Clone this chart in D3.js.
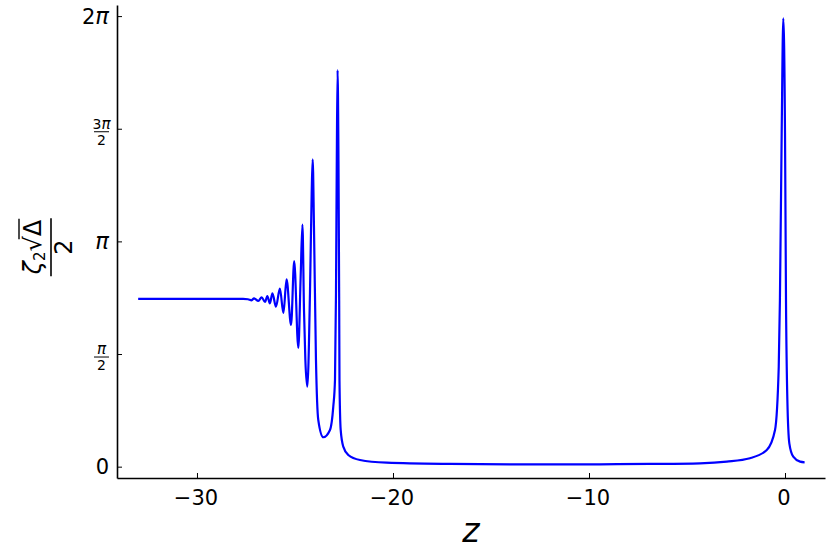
<!DOCTYPE html>
<html>
<head>
<meta charset="utf-8">
<script src="https://cdn.jsdelivr.net/npm/d3@7"></script>
<style>
  body { margin: 0; background: #fff; }
  text { font-family: "DejaVu Sans", sans-serif; fill: #000; }
</style>
</head>
<body>
<svg id="chart" width="830" height="554"></svg>
<script>
// values
var zValues = [-33.0, -30.0, -27.65, -27.4, -27.21, -27.09, -26.87, -26.70, -26.53, -26.41,
  -26.28, -26.15, -25.97, -25.77, -25.59, -25.43, -25.20, -25.04, -24.83, -24.71,
  -24.62, -24.54, -24.47, -24.37, -24.235, -24.148, -24.097, -24.031, -23.929, -23.811,
  -23.556, -23.214, -23.046, -22.959, -22.908, -22.867, -22.827, -22.781, -22.745, -22.730,
  -22.668, -22.536, -22.281, -21.684, -20.321, -17.09, -13.0, -9.44, -6.9, -4.34,
  -2.97, -1.79, -0.93, -0.51, -0.32, -0.26, -0.17, -0.087, 0.0, 0.05,
  0.12, 0.22, 0.42, 0.77, 1.0];
var phaseValues = [2.34, 2.34, 2.34, 2.335, 2.32, 2.348, 2.31, 2.362, 2.296, 2.38,
  2.278, 2.418, 2.231, 2.482, 2.143, 2.613, 1.976, 2.868, 1.655, 2.649,
  3.374, 2.185, 1.488, 1.115, 2.422, 3.816, 4.286, 3.346, 1.488, 0.651,
  0.410, 0.512, 0.837, 1.209, 2.416, 4.277, 5.531, 4.277, 2.324, 1.209,
  0.512, 0.279, 0.163, 0.093, 0.056, 0.038, 0.031, 0.033, 0.038, 0.047,
  0.070, 0.117, 0.233, 0.512, 1.394, 2.324, 4.653, 6.252, 4.653, 2.324,
  0.930, 0.326, 0.139, 0.070, 0.061];

var xTicks = [-30, -20, -10, 0];
var yTicks = [0, Math.PI / 2, Math.PI, 3 * Math.PI / 2, 2 * Math.PI];
// [numerator digit, has pi, denominator]
var yTickLabels = [["0", false, ""], ["", true, "2"], ["", true, ""], ["3", true, "2"], ["2", true, ""]];

var svg = d3.select("#chart");

var x = d3.scaleLinear().domain([-34.08, 2.04]).range([117, 825]);
var y = d3.scaleLinear().domain([-0.158, 6.438]).range([478, 5]);

var pts = zValues.map((z, i) => [z, phaseValues[i]]);

// curve
svg.append("path")
    .datum(pts)
    .attr("fill", "none")
    .attr("stroke", "#0000ff")
    .attr("stroke-width", 2.2)
    .attr("stroke-linejoin", "round")
    .attr("d", d3.line()
        .x(d => x(d[0]))
        .y(d => y(d[1]))
        .curve(d3.curveMonotoneX));

// x axis
var gx = svg.append("g")
    .attr("transform", "translate(0,478)")
    .call(d3.axisBottom(x)
        .tickValues(xTicks)
        .tickSizeInner(-5)
        .tickSizeOuter(0)
        .tickPadding(12)
        .tickFormat(d => d3.format("d")(d).replace("-", "\u2212")));
gx.select(".domain").attr("stroke", "#000").attr("stroke-width", 1.6);
gx.selectAll(".tick line").attr("stroke", "#000").attr("stroke-width", 1);
gx.selectAll(".tick text")
    .attr("font-size", 21)
    .attr("dx", -1.5)
    .attr("font-family", "DejaVu Sans");

// y axis
var gy = svg.append("g")
    .attr("transform", "translate(117,0)")
    .call(d3.axisLeft(y)
        .tickValues(yTicks)
        .tickSizeInner(-5)
        .tickSizeOuter(0)
        .tickFormat(""));
gy.select(".domain").attr("stroke", "#000").attr("stroke-width", 1.6);
gy.selectAll(".tick line").attr("stroke", "#000").attr("stroke-width", 1);

function addLabel(t, digit, pi, size) {
    if (digit) t.append("tspan").text(digit);
    if (pi) t.append("tspan").attr("font-style", "italic").attr("font-size", size * 1.08).text("π");
}

// y tick labels (fractions drawn by hand)
yTicks.forEach((v, i) => {
    var lab = yTickLabels[i];
    var yy = y(v);
    if (!lab[2]) {
        var t = svg.append("text")
            .attr("x", 109)
            .attr("y", yy + 7.5)
            .attr("text-anchor", "end")
            .attr("font-size", 21);
        addLabel(t, lab[0], lab[1], 21);
    } else {
        var cx = 101.5, bar = yy + 3;
        var t2 = svg.append("text")
            .attr("x", cx).attr("y", bar - 3)
            .attr("text-anchor", "middle")
            .attr("font-size", 14);
        addLabel(t2, lab[0], lab[1], 14);
        svg.append("line")
            .attr("x1", cx - 7.5).attr("x2", cx + 7.5)
            .attr("y1", bar).attr("y2", bar)
            .attr("stroke", "#000").attr("stroke-width", 1);
        svg.append("text")
            .attr("x", cx).attr("y", bar + 13)
            .attr("text-anchor", "middle")
            .attr("font-size", 14)
            .text(lab[2]);
    }
});

// x label
svg.append("text")
    .attr("x", 471)
    .attr("y", 542)
    .attr("text-anchor", "middle")
    .attr("font-size", 33)
    .attr("font-style", "italic")
    .text("z");

// y label: zeta_2 sqrt(Delta) / 2, rotated
var yl = svg.append("g").attr("transform", "translate(48,247) rotate(-90)");
var num = yl.append("text")
    .attr("x", 0)
    .attr("y", -7)
    .attr("text-anchor", "middle")
    .attr("font-size", 24);
num.append("tspan").attr("font-style", "italic").text("ζ");
num.append("tspan").attr("font-size", 15).attr("dy", 4).text("2");
num.append("tspan").attr("dy", -4).text("√");
num.append("tspan").text("Δ");
var nn = num.node();
var nc = nn.getNumberOfChars();
var s0 = nn.getEndPositionOfChar(nc - 2).x - 3;
var s1 = nn.getEndPositionOfChar(nc - 1).x + 1;
yl.append("line")
    .attr("x1", s0).attr("x2", s1)
    .attr("y1", -7 - 22).attr("y2", -7 - 22)
    .attr("stroke", "#000").attr("stroke-width", 1.4);
var nb = nn.getBBox();
yl.append("line")
    .attr("x1", nb.x - 1).attr("x2", nb.x + nb.width + 1)
    .attr("y1", 3).attr("y2", 3)
    .attr("stroke", "#000").attr("stroke-width", 1.6);
yl.append("text")
    .attr("x", 0)
    .attr("y", 24)
    .attr("text-anchor", "middle")
    .attr("font-size", 24)
    .text("2");
</script>
</body>
</html>
